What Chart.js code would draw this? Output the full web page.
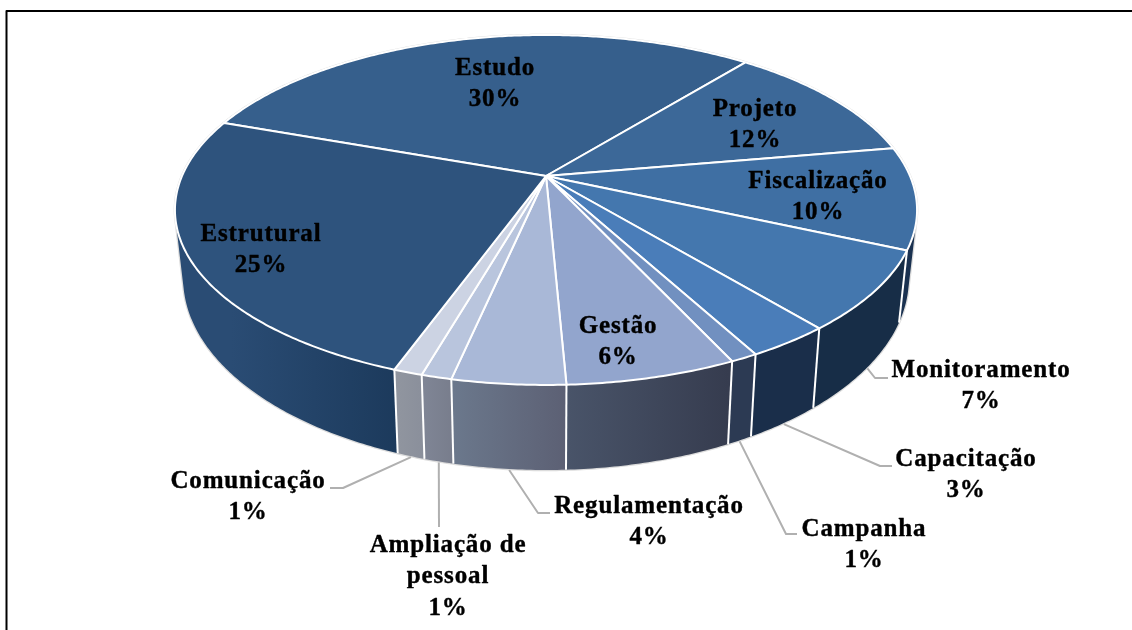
<!DOCTYPE html>
<html>
<head>
<meta charset="utf-8">
<script src="https://cdn.jsdelivr.net/npm/chart.js@4"></script>
<style>
  html, body { margin: 0; padding: 0; background: #fff; }
  canvas { display: block; }
</style>
</head>
<body>
<canvas id="myChart" width="1132" height="630"></canvas>
<script>
const categorias = ['Estudo', 'Projeto', 'Fiscalização', 'Monitoramento', 'Capacitação', 'Campanha', 'Gestão', 'Regulamentação', 'Ampliação de pessoal', 'Comunicação', 'Estrutural'];
// fatias; os rotulos impressos sao arredondados
const valores = [30.4, 11.4, 9.4, 7.3, 3.1, 1.0, 6.2, 4.1, 1.1, 1.05, 24.9];
const percentuais = ['30%', '12%', '10%', '7%', '3%', '1%', '6%', '4%', '1%', '1%', '25%'];

const coresTopo = ['#365f8c', '#3c6898', '#3f6fa3', '#4477ae', '#4a7db9', '#7190c0', '#92a5cd', '#a9b8d7', '#b9c5dd', '#ccd3e3', '#2e537d'];
const coresLadoEsq = ['#1f3957', '#22405f', '#1a3150', '#172d47', '#1a2e4a', '#2c3a53', '#495469', '#6b788c', '#7f8595', '#90959f', '#2a4c74'];
const coresLadoDir = ['#1f3957', '#22405f', '#1a3150', '#172d47', '#1a2e4a', '#2c3a53', '#363c4f', '#5c6074', '#787d8c', '#8a8f9b', '#1c3a5c'];

// linhas de cada rotulo, x central, y da primeira linha, cotovelos da linha guia
const rotulos = [
  { linhas: ['Estudo'], x: 495, y: 67 },
  { linhas: ['Projeto'], x: 755, y: 108 },
  { linhas: ['Fiscalização'], x: 818, y: 180 },
  { linhas: ['Monitoramento'], x: 981, y: 369, guia: [[875, 378], [888, 378]] },
  { linhas: ['Capacitação'], x: 966, y: 458, guia: [[880, 466], [892, 466]] },
  { linhas: ['Campanha'], x: 864, y: 528, guia: [[786, 534], [797, 534]] },
  { linhas: ['Gestão'], x: 618, y: 325 },
  { linhas: ['Regulamentação'], x: 649, y: 505, guia: [[538, 513], [550, 513]] },
  { linhas: ['Ampliação de', 'pessoal'], x: 448, y: 544, guia: [[439, 527]] },
  { linhas: ['Comunicação'], x: 248, y: 480, guia: [[343, 488], [330, 488]] },
  { linhas: ['Estrutural'], x: 261, y: 233 }
];

// perspectiva do disco: o centro da pizza nao fica no centro da elipse
const cx = 546, cy = 176, rx = 364, ry = 168.4, k = -0.194;
const passo = 0.01;

function pontoTopo(a) {
  const u = Math.cos(a), v = Math.sin(a), w = 1 + k * v;
  return [cx + rx * u / w, cy + ry * v / w];
}
function pontoBase(a) {
  const p = pontoTopo(a);
  return [cx + 0.978 * (p[0] - cx), 241 + 1.096 * (p[1] - cy)];
}
function arco(ctx, fn, a0, a1) {
  const n = Math.max(2, Math.ceil(Math.abs(a1 - a0) / passo));
  for (let i = 0; i <= n; i++) {
    const p = fn(a0 + (a1 - a0) * i / n);
    ctx.lineTo(p[0], p[1]);
  }
}
// lateral em tiras, todas no mesmo sentido, para cobrir tambem a tangente
function tiras(ctx, a0, a1) {
  const n = Math.max(2, Math.ceil(Math.abs(a1 - a0) / passo));
  ctx.beginPath();
  for (let i = 0; i < n; i++) {
    const a = a0 + (a1 - a0) * i / n, b = a0 + (a1 - a0) * (i + 1) / n;
    let q = [pontoTopo(a), pontoTopo(b), pontoBase(b), pontoBase(a)];
    let area = 0;
    q.forEach((p, j) => {
      const r = q[(j + 1) % 4];
      area += p[0] * r[1] - r[0] * p[1];
    });
    if (area < 0) q = q.reverse();
    ctx.moveTo(q[0][0], q[0][1]);
    ctx.lineTo(q[1][0], q[1][1]);
    ctx.lineTo(q[2][0], q[2][1]);
    ctx.lineTo(q[3][0], q[3][1]);
    ctx.closePath();
  }
}

const pizza3d = {
  id: 'pizza3d',
  beforeDatasetDraw(chart) {
    const ctx = chart.ctx;
    const arcos = chart.getDatasetMeta(0).data;
    ctx.save();
    ctx.lineJoin = 'round';

    // moldura: so esquerda e topo aparecem no recorte
    ctx.strokeStyle = '#000';
    ctx.lineWidth = 2;
    ctx.beginPath();
    ctx.moveTo(6.5, 640);
    ctx.lineTo(6.5, 11);
    ctx.lineTo(1140, 11);
    ctx.stroke();

    // contorno claro em volta da pizza
    tiras(ctx, 0, Math.PI * 2);
    ctx.strokeStyle = '#dcdcdc';
    ctx.lineWidth = 2.5;
    ctx.stroke();

    // laterais
    arcos.forEach((el, i) => {
      const a0 = el.startAngle, a1 = el.endAngle;
      const p0 = pontoBase(a0), p1 = pontoBase(a1);
      const g = ctx.createLinearGradient(Math.min(p0[0], p1[0]), 0, Math.max(p0[0], p1[0]), 0);
      g.addColorStop(0, coresLadoEsq[i]);
      g.addColorStop(1, coresLadoDir[i]);
      tiras(ctx, a0, a1);
      ctx.fillStyle = g;
      ctx.fill();
    });
    // arestas verticais brancas
    ctx.strokeStyle = '#fff';
    ctx.lineWidth = 2;
    arcos.forEach((el) => {
      const a = el.startAngle;
      if (Math.sin(a) < 0.05 && Math.cos(a) < 0.9) return;
      const t = pontoTopo(a), b = pontoBase(a);
      ctx.beginPath();
      ctx.moveTo(t[0], t[1]);
      ctx.lineTo(b[0], b[1]);
      ctx.stroke();
    });

    // topo
    arcos.forEach((el, i) => {
      ctx.beginPath();
      ctx.moveTo(cx, cy);
      arco(ctx, pontoTopo, el.startAngle, el.endAngle);
      ctx.closePath();
      ctx.fillStyle = coresTopo[i];
      ctx.fill();
      ctx.strokeStyle = '#fff';
      ctx.lineWidth = 2;
      ctx.stroke();
    });

    // linhas guia
    ctx.strokeStyle = '#b0b0b0';
    ctx.lineWidth = 2;
    rotulos.forEach((r, i) => {
      if (!r.guia) return;
      const p = pontoBase((arcos[i].startAngle + arcos[i].endAngle) / 2);
      ctx.beginPath();
      ctx.moveTo(p[0], p[1] + 1);
      r.guia.forEach(q => ctx.lineTo(q[0], q[1]));
      ctx.stroke();
    });

    // textos
    ctx.fillStyle = '#000';
    ctx.strokeStyle = '#000';
    ctx.lineWidth = 0.4;
    ctx.font = 'bold 25px "Liberation Serif"';
    ctx.letterSpacing = '0.85px';
    ctx.textAlign = 'center';
    ctx.textBaseline = 'middle';
    rotulos.forEach((r, i) => {
      r.linhas.concat(percentuais[i]).forEach((t, j) => {
        const y = r.y + 1.5 + j * 31.3;
        ctx.fillText(t, r.x, y);
        ctx.strokeText(t, r.x, y);
      });
    });
    ctx.restore();
    return false;
  }
};

new Chart(document.getElementById('myChart'), {
  type: 'pie',
  data: {
    labels: categorias,
    datasets: [{ data: valores, backgroundColor: coresTopo }]
  },
  options: {
    responsive: false,
    animation: false,
    rotation: -70.4,
    plugins: {
      legend: { display: false },
      tooltip: { enabled: false }
    }
  },
  plugins: [pizza3d]
});
</script>
</body>
</html>
